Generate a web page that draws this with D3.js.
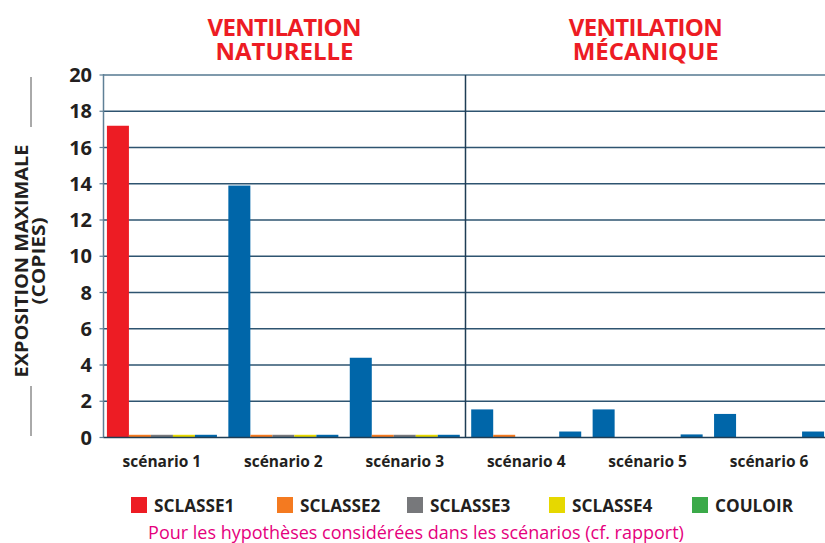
<!DOCTYPE html>
<html lang="fr">
<head>
  <meta charset="UTF-8">
  <script src="https://d3js.org/d3.v7.min.js"></script>
  <style>
    body {
      background-color: #fff;
      margin: 0;
      overflow: hidden;
    }

    svg {
      display: block;
    }

    text {
      font-family: "Open Sans", Arial, sans-serif;
    }
  </style>
</head>
<body>

<svg width="825" height="543"></svg>

<script>
  // scenarios on the x axis
  const scenarios = ['scénario 1', 'scénario 2', 'scénario 3', 'scénario 4', 'scénario 5', 'scénario 6'];

  // series (legend order)
  const series = ['SCLASSE1', 'SCLASSE2', 'SCLASSE3', 'SCLASSE4', 'COULOIR'];

  // values per series, one per scenario
  const sclasse1 = [17.2, 13.9, 4.4, 1.55, 1.55, 1.3];
  const sclasse2 = [0.15, 0.15, 0.15, 0.15, 0, 0];
  const sclasse3 = [0.15, 0.15, 0.15, 0, 0, 0];
  const sclasse4 = [0.15, 0.15, 0.15, 0, 0, 0];
  const couloir = [0.15, 0.15, 0.15, 0.33, 0.17, 0.33];

  const yTicks = [0, 2, 4, 6, 8, 10, 12, 14, 16, 18, 20];

  const groups = [
    { title: ['VENTILATION', 'NATURELLE'], from: 0, to: 2 },
    { title: ['VENTILATION', 'MÉCANIQUE'], from: 3, to: 5 }
  ];

  const values = [sclasse1, sclasse2, sclasse3, sclasse4, couloir];

  const legendColor = {
    SCLASSE1: '#ED1C24',
    SCLASSE2: '#F47A20',
    SCLASSE3: '#77787B',
    SCLASSE4: '#E6D800',
    COULOIR: '#3BAA49'
  };
  const blue = '#0066A9';

  // in the original the big bars are blue except for scenario 1, and couloir is blue
  function barColor(s, i) {
    if (s === 'COULOIR') return blue;
    if (s === 'SCLASSE1' && i > 0) return blue;
    return legendColor[s];
  }

  const svg = d3.select('svg');
  const margin = { left: 103.5, right: 826, top: 75, bottom: 437.5 };

  const x0 = d3.scaleBand()
    .domain(scenarios)
    .range([margin.left, margin.right])
    .paddingInner(0.094)
    .paddingOuter(0.022)
    .align(0.64);

  const x1 = d3.scaleBand()
    .domain(series)
    .range([0, x0.bandwidth()]);

  const y = d3.scaleLinear()
    .domain([0, 20])
    .range([margin.bottom, margin.top]);

  // gridlines
  svg.append('g')
    .selectAll('line')
    .data(yTicks.filter(d => d > 0))
    .enter().append('line')
    .attr('x1', margin.left)
    .attr('x2', margin.right)
    .attr('y1', d => y(d))
    .attr('y2', d => y(d))
    .attr('stroke', d => d === 20 ? '#7F9AAC' : '#2E5470')
    .attr('stroke-width', d => d === 20 ? 2 : 1.5);

  // bars
  const rows = [];
  scenarios.forEach((sc, i) => {
    series.forEach((s, j) => {
      rows.push({ sc, s, i, v: values[j][i] });
    });
  });

  svg.append('g')
    .selectAll('rect')
    .data(rows.filter(d => d.v > 0))
    .enter().append('rect')
    .attr('x', d => x0(d.sc) + x1(d.s))
    .attr('y', d => y(d.v))
    .attr('width', x1.bandwidth())
    .attr('height', d => y(0) - y(d.v))
    .attr('fill', d => barColor(d.s, d.i));

  // left axis line + ticks
  svg.append('line')
    .attr('x1', margin.left).attr('x2', margin.left)
    .attr('y1', margin.top - 1).attr('y2', margin.bottom)
    .attr('stroke', '#5F8096').attr('stroke-width', 1.5);

  svg.append('g')
    .selectAll('line')
    .data(yTicks)
    .enter().append('line')
    .attr('x1', margin.left - 4)
    .attr('x2', margin.left)
    .attr('y1', d => y(d))
    .attr('y2', d => y(d))
    .attr('stroke', '#5F8096')
    .attr('stroke-width', 1.2);

  // bottom axis
  svg.append('line')
    .attr('x1', margin.left).attr('x2', margin.right)
    .attr('y1', y(0)).attr('y2', y(0))
    .attr('stroke', '#1F3D55').attr('stroke-width', 1.5);

  // divider between the two ventilation types
  const divX = (x0(scenarios[2]) + x0.bandwidth() + x0(scenarios[3])) / 2;
  svg.append('line')
    .attr('x1', divX).attr('x2', divX)
    .attr('y1', margin.top).attr('y2', margin.bottom)
    .attr('stroke', '#1F3D55').attr('stroke-width', 1.5);

  // y tick labels
  svg.append('g')
    .selectAll('text')
    .data(yTicks)
    .enter().append('text')
    .attr('x', 92)
    .attr('y', d => y(d) + 7)
    .attr('text-anchor', 'end')
    .attr('font-size', 20)
    .attr('font-weight', 'bold')
    .attr('fill', '#231F20')
    .text(d => d);

  // x labels
  svg.append('g')
    .selectAll('text')
    .data(scenarios)
    .enter().append('text')
    .attr('x', d => x0(d) + x0.bandwidth() / 2)
    .attr('y', 467)
    .attr('text-anchor', 'middle')
    .attr('font-size', 15.5)
    .attr('font-weight', 'bold')
    .attr('fill', '#231F20')
    .text(d => d);

  // y axis title, two lines in one text
  const yt = svg.append('text')
    .attr('transform', 'translate(28,261) rotate(-90)')
    .attr('text-anchor', 'middle')
    .attr('font-size', 18)
    .attr('font-weight', 'bold')
    .attr('fill', '#231F20');
  yt.append('tspan')
    .attr('x', 0).attr('y', 0)
    .attr('textLength', 233)
    .attr('lengthAdjust', 'spacingAndGlyphs')
    .text('EXPOSITION MAXIMALE');
  yt.append('tspan')
    .attr('x', 0).attr('y', 17)
    .attr('textLength', 87)
    .attr('lengthAdjust', 'spacingAndGlyphs')
    .text('(COPIES)');

  svg.append('line')
    .attr('x1', 31).attr('x2', 31).attr('y1', 77).attr('y2', 127)
    .attr('stroke', '#555').attr('stroke-width', 1);
  svg.append('line')
    .attr('x1', 31).attr('x2', 31).attr('y1', 386).attr('y2', 436)
    .attr('stroke', '#555').attr('stroke-width', 1);

  // group titles
  groups.forEach(g => {
    const cx = g.from === 0
      ? (margin.left + divX) / 2
      : (divX + margin.right) / 2;
    const tt = svg.append('text')
      .attr('text-anchor', 'middle')
      .attr('font-size', 24)
      .attr('font-weight', 'bold')
      .attr('fill', '#ED1C24');
    g.title.forEach((t, k) => {
      tt.append('tspan')
        .attr('x', cx)
        .attr('y', 36 + k * 24)
        .attr('textLength', t === 'VENTILATION' ? 154 : null)
        .text(t);
    });
  });

  // legend
  const legendX = [131, 277, 407, 549, 692];
  const legend = svg.append('g')
    .selectAll('g')
    .data(series)
    .enter().append('g')
    .attr('transform', (d, i) => `translate(${legendX[i]},497)`);

  legend.append('rect')
    .attr('width', 16).attr('height', 16)
    .attr('fill', d => legendColor[d]);

  legend.append('text')
    .attr('x', 23).attr('y', 15)
    .attr('font-size', 17.2)
    .attr('font-weight', 'bold')
    .attr('fill', '#231F20')
    .text(d => d);

  svg.append('text')
    .attr('x', 416).attr('y', 539)
    .attr('text-anchor', 'middle')
    .attr('font-size', 18)
    .attr('fill', '#E5007D')
    .text('Pour les hypothèses considérées dans les scénarios (cf. rapport)');
</script>

</body>
</html>
